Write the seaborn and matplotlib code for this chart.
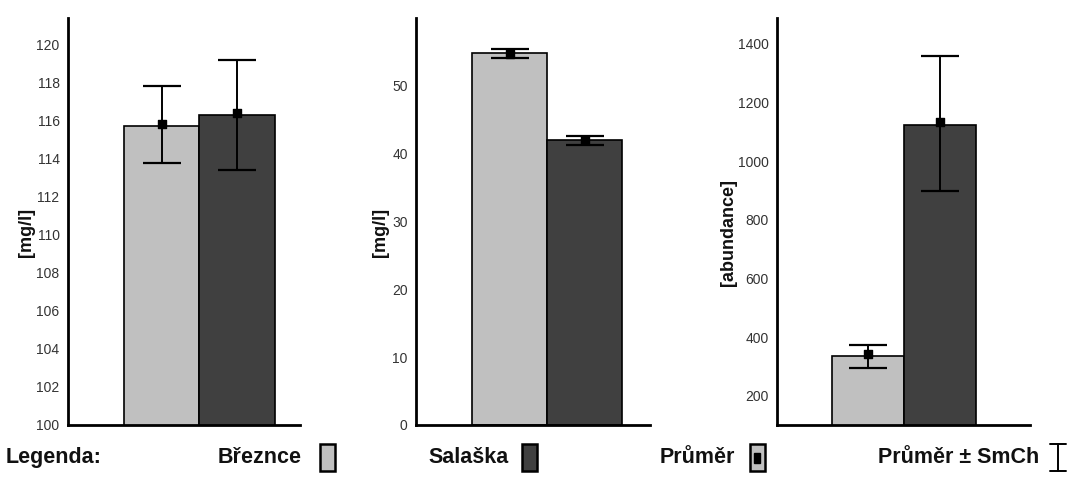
import numpy as np
import pandas as pd
import matplotlib
matplotlib.use("Agg")
import matplotlib.pyplot as plt
import seaborn as sns
from matplotlib.patches import Rectangle
from matplotlib.lines import Line2D

sites = ["Březnce", "Salaška"]
colors = ["#c0c0c0", "#404040"]

# panel 1 [mg/l]
p1_bar = [115.7, 116.3]
p1_mean = [115.8, 116.4]
p1_lo = [113.75, 113.4]
p1_hi = [117.8, 119.2]
# panel 2 [mg/l]
p2_bar = [54.7, 41.9]
p2_mean = [54.6, 41.9]
p2_lo = [54.0, 41.2]
p2_hi = [55.3, 42.6]
# panel 3 [abundance]
p3_bar = [336, 1124]
p3_mean = [343, 1134]
p3_lo = [295, 899]
p3_hi = [374, 1359]

sns.set_style("white")
plt.rcParams["font.family"] = ["Liberation Sans", "DejaVu Sans"]

fig = plt.figure(figsize=(10.89, 4.82), dpi=100)

panels = [
    dict(rect=[0.0624, 0.1183, 0.213, 0.8444], bar=p1_bar, mean=p1_mean, lo=p1_lo, hi=p1_hi,
         ylim=(100, 121.4), ticks=np.arange(100, 121, 2), xlim=(-1.24, 1.83),
         label="[mg/l]", lx=-0.142),
    dict(rect=[0.382, 0.1183, 0.215, 0.8444], bar=p2_bar, mean=p2_mean, lo=p2_lo, hi=p2_hi,
         ylim=(0, 59.9), ticks=np.arange(0, 51, 10), xlim=(-1.25, 1.87),
         label="[mg/l]", lx=-0.115),
    dict(rect=[0.7135, 0.1183, 0.232, 0.8444], bar=p3_bar, mean=p3_mean, lo=p3_lo, hi=p3_hi,
         ylim=(100, 1488), ticks=np.arange(200, 1401, 200), xlim=(-1.26, 2.25),
         label="[abundance]", lx=-0.158),
]

for p in panels:
    ax = fig.add_axes(p["rect"])
    df = pd.DataFrame({"site": sites, "value": p["bar"]})
    sns.barplot(data=df, x="site", y="value", hue="site", palette=colors, width=1.0,
                dodge=False, edgecolor="black", linewidth=1.2, legend=False, ax=ax)
    mean = np.array(p["mean"])
    yerr = [mean - np.array(p["lo"]), np.array(p["hi"]) - mean]
    ax.errorbar([0, 1], mean, yerr=yerr, fmt="none", ecolor="black",
                elinewidth=1.4, capsize=14, capthick=1.6, zorder=5)
    ax.scatter([0, 1], mean, marker="s", s=30, color="black", zorder=6)
    ax.set_ylim(*p["ylim"])
    ax.set_xlim(*p["xlim"])
    ax.set_yticks(p["ticks"])
    ax.set_xticks([])
    ax.set_xlabel("")
    ax.set_ylabel(p["label"], fontsize=13, fontweight="bold", color="#111111")
    ax.yaxis.set_label_coords(p["lx"], 0.472)
    ax.tick_params(axis="y", length=0, labelsize=10, colors="#333333", pad=6)
    for s in ["top", "right"]:
        ax.spines[s].set_visible(False)
    for s in ["left", "bottom"]:
        ax.spines[s].set_linewidth(2)
        ax.spines[s].set_color("black")

# legend row
ly = 0.05
fs = 15.5
fig.text(0.005, ly, "Legenda:", fontsize=fs, fontweight="bold", va="center", color="#111111")
fig.text(0.277, ly, "Březnce", fontsize=fs, fontweight="bold", va="center", ha="right", color="#111111")
fig.text(0.467, ly, "Salaška", fontsize=fs, fontweight="bold", va="center", ha="right", color="#111111")
fig.text(0.675, ly, "Průměr", fontsize=fs, fontweight="bold", va="center", ha="right", color="#111111")
fig.text(0.954, ly, "Průměr ± SmCh", fontsize=fs, fontweight="bold", va="center", ha="right", color="#111111")

bw, bh = 15 / 1089, 27 / 482
for x0, c in [(0.2939, colors[0]), (0.4793, colors[1]), (0.6887, colors[0])]:
    fig.patches.append(Rectangle((x0, ly - bh / 2), bw, bh, transform=fig.transFigure,
                                 facecolor=c, edgecolor="black", linewidth=1.8))
fig.patches.append(Rectangle((0.6887 + bw * 0.3, ly - bh * 0.18), bw * 0.4, bh * 0.36,
                             transform=fig.transFigure, facecolor="black", edgecolor="black"))
ex = 0.9715
fig.lines.append(Line2D([ex, ex], [ly - bh / 2, ly + bh / 2], transform=fig.transFigure, color="black", lw=1.4))
fig.lines.append(Line2D([ex - 0.0075, ex + 0.0075], [ly + bh / 2] * 2, transform=fig.transFigure, color="black", lw=1.4))
fig.lines.append(Line2D([ex - 0.0075, ex + 0.0075], [ly - bh / 2] * 2, transform=fig.transFigure, color="black", lw=1.4))

fig.savefig("out.png", dpi=100)
